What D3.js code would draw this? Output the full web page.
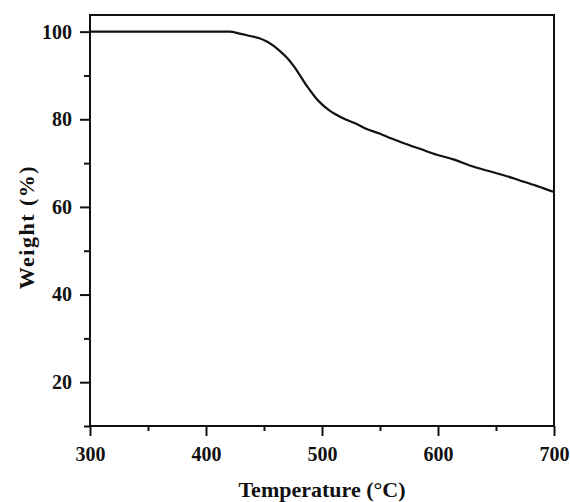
<!DOCTYPE html>
<html>
<head>
<meta charset="utf-8">
<script src="https://cdn.jsdelivr.net/npm/d3@7"></script>
<style>
  body { margin: 0; background: #fff; }
  svg text { font-family: "Liberation Serif", "Times New Roman", serif; font-weight: bold; fill: #111; }
</style>
</head>
<body>
<div id="chart"></div>
<script>
// TGA curve
const temperature = [300, 350, 400, 410, 420, 430, 438, 446, 452, 458, 464, 470, 476, 482, 488, 494, 500, 506, 512, 520, 530, 539, 549, 560, 570, 585, 599, 614, 628, 642, 656, 670, 685, 700];
const weight      = [100, 100, 100, 100, 100, 99.5, 99.0, 98.5, 97.8, 96.8, 95.5, 94.0, 92.0, 89.6, 87.2, 85.1, 83.4, 82.1, 81.1, 80.0, 78.9, 77.7, 76.8, 75.6, 74.6, 73.2, 71.9, 70.8, 69.4, 68.3, 67.3, 66.1, 64.8, 63.4];

const xTicks = [300, 400, 500, 600, 700];
const xMinor = [350, 450, 550, 650];
const yTicks = [20, 40, 60, 80, 100];
const yMinor = [10, 30, 50, 70, 90];

const width = 570, height = 502;
const margin = { top: 15, right: 16, bottom: 76, left: 90 };

const svg = d3.select("#chart").append("svg")
  .attr("width", width)
  .attr("height", height);

const x = d3.scaleLinear()
  .domain([300, 700])
  .range([margin.left, width - margin.right]);

const y = d3.scaleLinear()
  .domain([10, 103.8])
  .range([height - margin.bottom, margin.top]);

// frame
svg.append("rect")
  .attr("x", x(300))
  .attr("y", y(103.8))
  .attr("width", x(700) - x(300))
  .attr("height", y(10) - y(103.8))
  .attr("fill", "none")
  .attr("stroke", "#111")
  .attr("stroke-width", 2);

// x axis
svg.append("g")
  .attr("transform", `translate(0, ${y(10)})`)
  .call(d3.axisBottom(x).tickValues(xTicks).tickSize(10).tickPadding(11).tickFormat(d3.format("d")));
svg.append("g")
  .attr("transform", `translate(0, ${y(10)})`)
  .call(d3.axisBottom(x).tickValues(xMinor).tickSize(5).tickFormat(""));

// y axis
svg.append("g")
  .attr("transform", `translate(${x(300)}, 0)`)
  .call(d3.axisLeft(y).tickValues(yTicks).tickSize(10).tickPadding(8).tickFormat(d3.format("d")));
svg.append("g")
  .attr("transform", `translate(${x(300)}, 0)`)
  .call(d3.axisLeft(y).tickValues(yMinor).tickSize(6).tickFormat(""));

svg.selectAll(".domain").remove();
svg.selectAll(".tick line").attr("stroke", "#111").attr("stroke-width", 2);
svg.selectAll(".tick text").attr("font-size", "20px").attr("font-family", null);

// curve
const line = d3.line()
  .x((d, i) => x(temperature[i]))
  .y(d => y(d))
  .curve(d3.curveMonotoneX);

svg.append("path")
  .datum(weight)
  .attr("d", line)
  .attr("fill", "none")
  .attr("stroke", "#111")
  .attr("stroke-width", 2.2);

// axis titles
svg.append("text")
  .attr("x", (x(300) + x(700)) / 2)
  .attr("y", 497)
  .attr("text-anchor", "middle")
  .attr("font-size", "22px")
  .text("Temperature (°C)");

svg.append("text")
  .attr("transform", `translate(34, 227) rotate(-90)`)
  .attr("text-anchor", "middle")
  .attr("font-size", "22px")
  .attr("letter-spacing", "1.5px")
  .text("Weight (%)");
</script>
</body>
</html>
